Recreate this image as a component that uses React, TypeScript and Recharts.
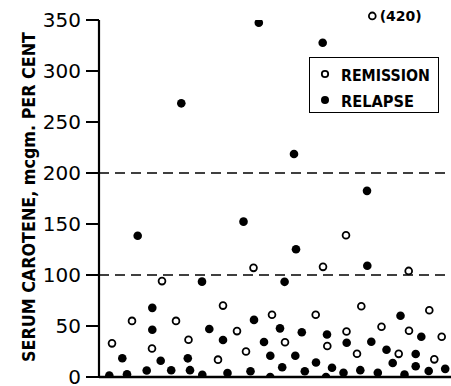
import React from "react";
import {
  ScatterChart,
  Scatter,
  XAxis,
  YAxis,
  ReferenceLine,
  ReferenceDot,
} from "recharts";

// Case position along the horizontal (patients are simply spread out), serum carotene value
const remissionX = [13, 33, 63, 53, 77, 89.5, 119, 124, 138, 147, 154.5, 173, 186, 216.7, 224, 228.3, 247.5, 247, 258, 262.3, 282.5, 299.7, 310, 309.7, 330.3, 335.3, 342.7];
const remissionY = [33, 55, 94, 28, 55, 36.5, 17, 70, 45, 25, 107, 61, 34, 61, 108, 30.4, 44.6, 139, 22.8, 69.4, 49.3, 22.7, 45.4, 104, 65.5, 17.3, 39.4];

const relapseX = [10.3, 23.3, 28, 38.7, 47.7, 53.3, 53.3, 61.7, 72.2, 82.3, 88.8, 91, 103.3, 103, 110.3, 124, 128.5, 144.5, 151.5, 155, 159.8, 165, 171.3, 171.2, 181, 183.2, 185.6, 195, 196.3, 197, 202.8, 205.8, 217, 223.7, 228, 227, 233, 244.5, 247.7, 261.3, 268, 268.3, 272.3, 278.8, 287.5, 293.7, 301.5, 305.5, 316.7, 316.7, 322.3, 329.7, 346.2];
const relapseY = [1.5, 18.4, 2.7, 138.5, 6.3, 67.8, 46.3, 15.9, 6.6, 268.3, 18.3, 6.7, 2.2, 93.5, 47, 36.3, 3.9, 152.3, 5.7, 56, 347.3, 34.3, 20.8, 0, 47.7, 9.5, 93.3, 218.6, 20.8, 125.2, 43.8, 5.7, 14.2, 327.7, 41.7, 0, 9.1, 4.1, 33.6, 6.7, 182.5, 109, 34.5, 4.2, 26.7, 13.7, 60.1, 2.3, 22.5, 10.6, 39.4, 5.9, 8];

// off-scale remission value, drawn at the top edge with its true value in brackets
const outlierX = 273.3;
const outlierPlotY = 354;
const outlierActual = 420;

const yTicks = [0, 50, 100, 150, 200, 250, 300, 350];
const normalLimits = [100, 200];

const remission = remissionX.map((x, i) => ({ x, y: remissionY[i] }));
const relapse = relapseX.map((x, i) => ({ x, y: relapseY[i] }));

const FONT = "'DejaVu Sans', sans-serif";

const OpenDot = (p: any) => (
  <circle cx={p.cx} cy={p.cy} r={3.4} fill="#fff" stroke="#000" strokeWidth={1.8} />
);
const FilledDot = (p: any) => <circle cx={p.cx} cy={p.cy} r={4.3} fill="#000" />;

const YLabel = () => (
  <text
    x={0}
    y={0}
    transform="translate(29, 197) rotate(-90)"
    textAnchor="middle"
    dominantBaseline="central"
    fontFamily={FONT}
    fontWeight="bold"
    fontSize={17}
    textLength={330}
    lengthAdjust="spacingAndGlyphs"
    fill="#000"
  >
    SERUM CAROTENE, mcgm. PER CENT
  </text>
);

export default function App() {
  return (
    <div style={{ position: "absolute", left: 0, top: 0, width: 451, height: 386, background: "#fff", overflow: "hidden" }}>
      <style>{`.recharts-surface{overflow:visible}`}</style>
      <ScatterChart width={451} height={386} margin={{ top: 20, right: 0, bottom: 9, left: 0 }}>
        <XAxis type="number" dataKey="x" domain={[0, 352]} hide />
        <YAxis
          type="number"
          dataKey="y"
          domain={[0, 350]}
          ticks={yTicks}
          interval={0}
          width={99}
          tickSize={13}
          tickMargin={5}
          allowDataOverflow
          axisLine={{ stroke: "#000", strokeWidth: 2.2 }}
          tickLine={{ stroke: "#000", strokeWidth: 2 }}
          tick={{ fill: "#000", fontFamily: FONT, fontSize: 20 }}
          label={<YLabel />}
        />
        {normalLimits.map((v) => (
          <ReferenceLine key={v} y={v} stroke="#000" strokeWidth={1.6} strokeDasharray="10 6" />
        ))}
        <ReferenceLine y={0} stroke="#000" strokeWidth={2.6} />
        <Scatter data={remission} shape={OpenDot} isAnimationActive={false} />
        <Scatter data={relapse} shape={FilledDot} isAnimationActive={false} />
        <ReferenceDot
          x={outlierX}
          y={outlierPlotY}
          r={3.4}
          ifOverflow="visible"
          fill="#fff"
          stroke="#000"
          strokeWidth={1.8}
          label={{
            value: `(${outlierActual})`,
            position: "right",
            offset: 4,
            fontFamily: FONT,
            fontWeight: "bold",
            fontSize: 14,
            fill: "#000",
          }}
        />
      </ScatterChart>
      <div
        style={{
          position: "absolute",
          left: 309,
          top: 57,
          width: 128,
          height: 54,
          border: "1.5px solid #000",
          background: "#fff",
        }}
      >
        <svg width={128} height={54} style={{ display: "block", overflow: "visible" }}>
          <circle cx={15} cy={16} r={3.2} fill="#fff" stroke="#000" strokeWidth={1.8} />
          <text x={31} y={17} dominantBaseline="central" fontFamily={FONT} fontWeight="bold" fontSize={16} textLength={89} lengthAdjust="spacingAndGlyphs" fill="#000">
            REMISSION
          </text>
          <circle cx={15} cy={42} r={4} fill="#000" />
          <text x={31} y={43} dominantBaseline="central" fontFamily={FONT} fontWeight="bold" fontSize={16} textLength={73} lengthAdjust="spacingAndGlyphs" fill="#000">
            RELAPSE
          </text>
        </svg>
      </div>
    </div>
  );
}
